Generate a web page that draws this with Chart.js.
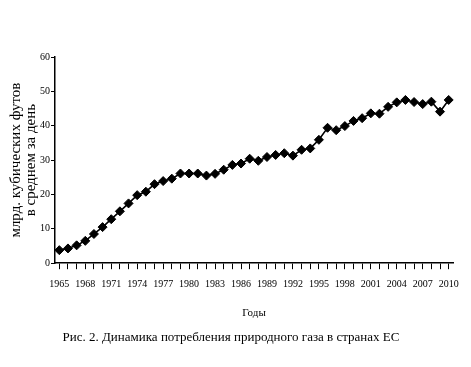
<!DOCTYPE html>
<html>
<head>
<meta charset="utf-8">
<script src="https://cdn.jsdelivr.net/npm/chart.js@4.4.0/dist/chart.umd.min.js"></script>
<style>
  body { margin: 0; background: #fff; }
  canvas { display: block; }
</style>
</head>
<body>
<canvas id="gas-chart" width="471" height="367"></canvas>
<script>
const years = [];
for (let y = 1965; y <= 2010; y++) years.push(String(y));

// млрд. куб. футов в день
const consumption = [
  3.8, 4.3, 5.2, 6.5, 8.5, 10.5, 12.8, 15.1, 17.4, 19.8,
  20.8, 23.0, 23.9, 24.6, 26.1, 26.1, 26.1, 25.5, 26.0, 27.2,
  28.6, 29.0, 30.4, 29.8, 30.9, 31.5, 32.0, 31.3, 33.0, 33.4,
  35.9, 39.4, 38.7, 39.9, 41.4, 42.2, 43.6, 43.5, 45.5, 46.8,
  47.5, 46.9, 46.3, 47.0, 44.1, 47.5
];

const yTitle = ["млрд. кубических футов", "в среднем за день"];
const xTitle = "Годы";
const caption = "Рис. 2. Динамика потребления природного газа в странах ЕС";

const serif = "'Liberation Serif', 'DejaVu Serif', serif";

const ctx = document.getElementById("gas-chart");

new Chart(ctx, {
  type: "line",
  data: {
    labels: years,
    datasets: [
      {
        data: consumption,
        borderColor: "#000",
        backgroundColor: "#000",
        borderWidth: 1.6,
        pointStyle: "rectRot",
        pointRadius: 4.5,
        pointBorderWidth: 1,
        tension: 0,
      },
    ],
  },
  options: {
    responsive: false,
    animation: false,
    layout: {
      padding: { left: 9, right: 18, top: 57, bottom: 4 },
    },
    plugins: {
      legend: { display: false },
      tooltip: { enabled: false },
      title: {
        display: true,
        position: "bottom",
        text: caption,
        color: "#000",
        font: { family: serif, size: 13, weight: "normal" },
        padding: { top: 10, bottom: 18 },
      },
    },
    scales: {
      x: {
        offset: true,
        grid: {
          drawOnChartArea: false,
          color: "#000",
          tickLength: 6,
          offset: false,
        },
        border: { color: "#000", width: 1.5 },
        ticks: {
          color: "#000",
          autoSkip: false,
          maxRotation: 0,
          padding: 9,
          font: { family: serif, size: 10 },
          callback: function (value, index) {
            return index % 3 === 0 ? years[index] : "";
          },
        },
        title: {
          display: true,
          text: xTitle,
          color: "#000",
          font: { family: serif, size: 11 },
          padding: { top: 7, bottom: 0 },
        },
      },
      y: {
        min: 0,
        max: 60,
        grid: {
          drawOnChartArea: false,
          color: "#000",
          tickLength: 4,
        },
        border: { color: "#000", width: 1.5 },
        ticks: {
          stepSize: 10,
          color: "#000",
          padding: 1,
          font: { family: serif, size: 10 },
        },
        title: {
          display: true,
          text: yTitle,
          color: "#000",
          font: { family: serif, size: 15, lineHeight: 1 },
          padding: { top: 0, bottom: 0 },
        },
      },
    },
  },
});
</script>
</body>
</html>
